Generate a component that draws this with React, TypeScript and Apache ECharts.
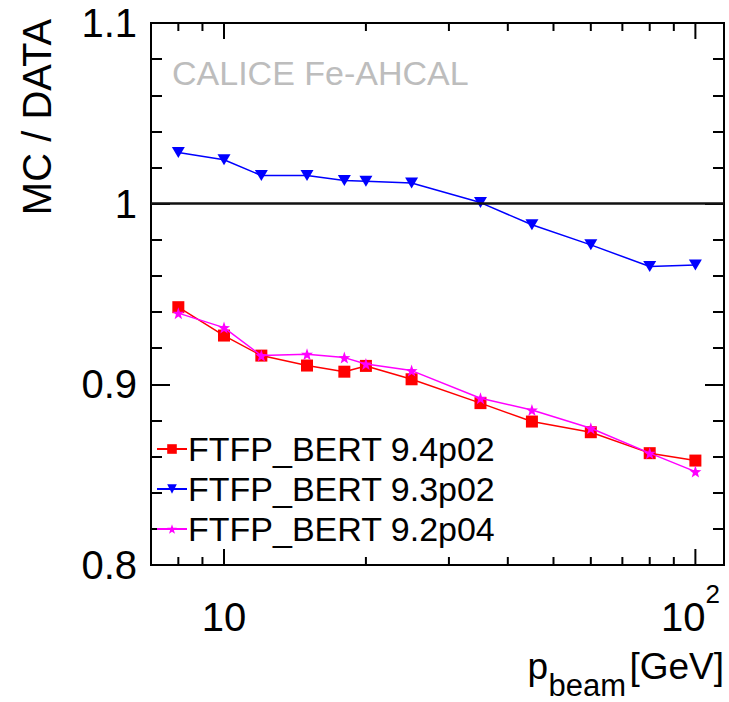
import React, { useEffect, useRef } from "react";
import * as echarts from "echarts";

const ENERGIES = [8, 10, 12, 15, 18, 20, 25, 35, 45, 60, 80, 100];
const FTFP_94 = [0.9427, 0.927, 0.9159, 0.9104, 0.907, 0.9102, 0.9028, 0.8896, 0.8794, 0.8735, 0.8619, 0.8578];
const FTFP_93 = [1.0283, 1.0243, 1.0156, 1.0156, 1.0128, 1.0124, 1.0114, 1.0006, 0.9883, 0.9772, 0.9652, 0.9661];
const FTFP_92 = [0.9394, 0.9314, 0.9159, 0.9167, 0.9148, 0.9113, 0.9076, 0.8923, 0.8858, 0.8757, 0.8619, 0.8517];
const SERIES_NAMES = ["FTFP_BERT 9.4p02", "FTFP_BERT 9.3p02", "FTFP_BERT 9.2p04"];
const X_TICKS = [8, 9, 10, 20, 30, 40, 50, 60, 70, 80, 90, 100];
const X_MAJOR = [10, 100];
const X_MIN = 7;
const X_MAX = 115;
const Y_MIN = 0.8;
const Y_MAX = 1.1;
const Y_INTERVAL = 0.1;
const REF_LINE = 1;

const FONT = "'Liberation Sans', Arial, Helvetica, sans-serif";
const STAR = "path://M0,-10 L2.35,-3.24 L9.51,-3.09 L3.8,1.24 L5.88,8.09 L0,4 L-5.88,8.09 L-3.8,1.24 L-9.51,-3.09 L-2.35,-3.24 Z";

export default function App() {
  const ref = useRef<HTMLDivElement>(null);
  useEffect(() => {
    if (!ref.current) return;
    const chart = echarts.init(ref.current, undefined, { renderer: "svg" });
    const pairs = (vals: number[]) => ENERGIES.map((e, i) => [e, vals[i]]);
    const yAxisBase = {
      type: "value",
      min: Y_MIN,
      max: Y_MAX,
      interval: Y_INTERVAL,
      splitLine: { show: false },
      axisLine: { show: false },
      axisTick: { show: true, inside: true, length: 19, lineStyle: { color: "#000", width: 2 } },
      minorTick: { show: true, splitNumber: 5, length: 11, lineStyle: { color: "#000", width: 2 } },
      minorSplitLine: { show: false },
    };
    chart.setOption({
      animation: false,
      backgroundColor: "#fff",
      textStyle: { fontFamily: FONT },
      grid: {
        left: 151,
        right: 5,
        top: 23,
        bottom: 137,
        show: true,
        borderColor: "#000",
        borderWidth: 2,
        backgroundColor: "transparent",
        containLabel: false,
        outerBoundsMode: "none",
      },
      legend: {
        data: SERIES_NAMES,
        orient: "vertical",
        left: 156,
        top: 429,
        padding: 0,
        itemGap: 0,
        itemWidth: 30,
        itemHeight: 12,
        textStyle: { fontSize: 34, color: "#000", fontFamily: FONT, lineHeight: 40, padding: [0, 0, 0, -4] },
      },
      xAxis: {
        type: "log",
        logBase: 10,
        min: X_MIN,
        max: X_MAX,
        splitLine: { show: false },
        axisLine: { show: false },
        axisTick: { show: false },
        minorTick: { show: false },
        axisLabel: {
          show: true,
          margin: 16,
          showMinLabel: false,
          showMaxLabel: false,
          formatter: (v: number) => {
            if (Math.abs(v - 10) < 1e-6) return "{b|10}";
            if (Math.abs(v - 100) < 1e-6) return "{b|10}{s|2}";
            return "";
          },
          rich: {
            b: { fontSize: 40, lineHeight: 72, color: "#000", fontFamily: FONT, verticalAlign: "middle" },
            s: { fontSize: 26, lineHeight: 22, color: "#000", fontFamily: FONT, verticalAlign: "top", padding: [0, 10, 0, 0] },
          },
        },
      },
      yAxis: [
        {
          ...yAxisBase,
          position: "left",
          axisLabel: {
            show: true,
            margin: 14,
            fontSize: 40,
            color: "#000",
            fontFamily: FONT,
            formatter: (v: number) => (Math.abs(v - 1) < 1e-9 ? "1" : v.toFixed(1)),
          },
        },
        {
          ...yAxisBase,
          position: "right",
          axisLabel: { show: false },
        },
      ],
      graphic: [
        {
          type: "text",
          left: 172,
          top: 56,
          style: { text: "CALICE Fe-AHCAL", fontSize: 34, fill: "#bdbdbd", fontFamily: FONT },
        },
        {
          type: "text",
          x: 37,
          y: 117,
          rotation: Math.PI / 2,
          style: {
            text: "MC / DATA",
            fontSize: 40,
            fill: "#000",
            fontFamily: FONT,
            align: "center",
            verticalAlign: "middle",
          },
        },
        {
          type: "text",
          x: 724,
          y: 666,
          style: { text: "[GeV]", fontSize: 37, fill: "#000", fontFamily: FONT, align: "right", verticalAlign: "middle" },
        },
        {
          type: "text",
          x: 626,
          y: 685,
          style: { text: "beam", fontSize: 31, fill: "#000", fontFamily: FONT, align: "right", verticalAlign: "middle" },
        },
        {
          type: "text",
          x: 548,
          y: 666,
          style: { text: "p", fontSize: 37, fill: "#000", fontFamily: FONT, align: "right", verticalAlign: "middle" },
        },
      ],
      series: [
        {
          type: "custom",
          name: "xticks",
          silent: true,
          renderItem: (params: any, api: any) => {
            const v = api.value(0);
            const major = X_MAJOR.indexOf(v) >= 0;
            const len = major ? 16 : 8;
            const pb = api.coord([v, Y_MIN]);
            const pt = api.coord([v, Y_MAX]);
            const st = { stroke: "#000", lineWidth: 2 };
            return {
              type: "group",
              children: [
                { type: "line", shape: { x1: pb[0], y1: pb[1], x2: pb[0], y2: pb[1] - len }, style: st },
                { type: "line", shape: { x1: pt[0], y1: pt[1], x2: pt[0], y2: pt[1] + len }, style: st },
              ],
            };
          },
          data: X_TICKS.map((t) => [t, Y_MIN]),
          z: 1,
        },
        {
          type: "line",
          name: SERIES_NAMES[0],
          data: pairs(FTFP_94),
          symbol: "rect",
          symbolSize: 12,
          color: "#ff0000",
          lineStyle: { color: "#ff0000", width: 1.5 },
          itemStyle: { color: "#ff0000" },
          z: 3,
        },
        {
          type: "line",
          name: SERIES_NAMES[1],
          data: pairs(FTFP_93),
          symbol: "triangle",
          symbolRotate: 180,
          symbolSize: [13, 11],
          color: "#0000ff",
          lineStyle: { color: "#0000ff", width: 1.5 },
          itemStyle: { color: "#0000ff" },
          z: 3,
          markLine: {
            silent: true,
            symbol: ["none", "none"],
            label: { show: false },
            lineStyle: { color: "#111", type: "solid", width: 2.5 },
            data: [{ yAxis: REF_LINE }],
          },
        },
        {
          type: "line",
          name: SERIES_NAMES[2],
          data: pairs(FTFP_92),
          symbol: STAR,
          symbolSize: 12,
          color: "#ff00ff",
          lineStyle: { color: "#ff00ff", width: 1.5 },
          itemStyle: { color: "#ff00ff" },
          z: 4,
        },
      ],
    });
    return () => chart.dispose();
  }, []);
  return (
    <div
      ref={ref}
      style={{ position: "absolute", left: 0, top: 0, width: 729, height: 702, background: "#fff" }}
    />
  );
}
